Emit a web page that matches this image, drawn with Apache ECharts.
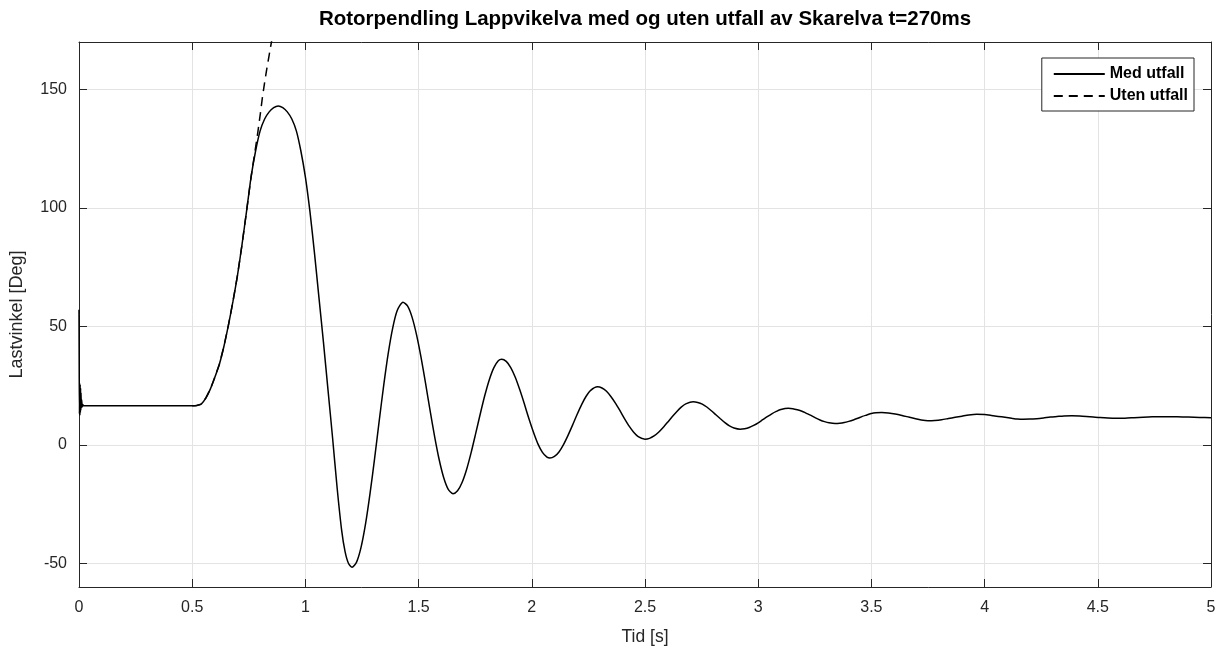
<!DOCTYPE html>
<html>
<head>
<meta charset="utf-8">
<script src="https://cdn.jsdelivr.net/npm/echarts@6/dist/echarts.min.js"></script>
<style>
  html, body { margin: 0; padding: 0; background: #fff; }
  #chart { width: 1218px; height: 646px; }
</style>
</head>
<body>
<div id="chart"></div>
<script>
// Rotor angle after the fault, with the Skarelva trip (solid)
const medT = [
  0, 0.001, 0.002, 0.003, 0.004, 0.005, 0.006, 0.007, 0.008, 0.009, 0.010, 0.012, 0.014, 0.017, 0.02,
  0.1, 0.2, 0.3, 0.4, 0.5, 0.52,
  0.54, 0.56, 0.58, 0.60, 0.62, 0.64, 0.66, 0.68, 0.70, 0.72, 0.74, 0.76, 0.78, 0.80, 0.82, 0.84, 0.86, 0.88,
  0.90, 0.92, 0.94, 0.96, 0.98, 1.00, 1.02, 1.04, 1.06, 1.08, 1.10, 1.12, 1.14, 1.16, 1.175, 1.19, 1.206,
  1.226, 1.246, 1.266, 1.286, 1.306, 1.326, 1.346, 1.366, 1.386, 1.406, 1.431,
  1.451, 1.471, 1.491, 1.511, 1.531, 1.551, 1.571, 1.591, 1.611, 1.631, 1.652,
  1.672, 1.692, 1.712, 1.732, 1.752, 1.772, 1.792, 1.812, 1.832, 1.852, 1.867,
  1.887, 1.907, 1.927, 1.947, 1.967, 1.987, 2.007, 2.027, 2.047, 2.067, 2.08,
  2.10, 2.12, 2.14, 2.16, 2.18, 2.20, 2.22, 2.24, 2.26, 2.29,
  2.31, 2.33, 2.35, 2.37, 2.39, 2.41, 2.43, 2.45, 2.47, 2.50,
  2.52, 2.54, 2.56, 2.58, 2.60, 2.62, 2.64, 2.66, 2.68, 2.713,
  2.733, 2.753, 2.773, 2.793, 2.813, 2.833, 2.853, 2.873, 2.893, 2.92,
  2.94, 2.96, 2.98, 3.00, 3.02, 3.04, 3.06, 3.08, 3.10, 3.133,
  3.153, 3.173, 3.193, 3.213, 3.233, 3.253, 3.273, 3.293, 3.313, 3.34,
  3.36, 3.38, 3.40, 3.42, 3.44, 3.46, 3.48, 3.50, 3.52, 3.545,
  3.575, 3.605, 3.635, 3.665, 3.695, 3.72, 3.75,
  3.78, 3.81, 3.84, 3.87, 3.90, 3.93, 3.965,
  4.00, 4.03, 4.06, 4.09, 4.12, 4.145, 4.17,
  4.20, 4.23, 4.26, 4.29, 4.32, 4.35, 4.385,
  4.42, 4.45, 4.48, 4.51, 4.545, 4.58,
  4.62, 4.66, 4.70, 4.74, 4.80,
  4.85, 4.90, 4.95, 5.0
];
const medVals = [
  57, 30, 13, 26, 12.5, 25.5, 13.5, 24, 14.5, 22, 15.5, 19, 16, 17, 16.5,
  16.5, 16.5, 16.5, 16.5, 16.5, 16.6,
  17.2, 19.7, 23.5, 28.5, 34, 41.5, 50.5, 60.5, 71.5, 84.5, 98.5, 113, 124, 132.5, 137.5, 140.5, 142.3, 143,
  142.3, 140.5, 137.5, 132.5, 124, 113, 98.5, 81, 62, 43, 23, 3, -18, -36, -45, -50, -51.7,
  -49.5, -43.2, -33.2, -20.2, -5.5, 10.1, 25.2, 38.7, 49.5, 56.8, 60.2,
  58.6, 53.9, 46.4, 36.8, 25.8, 14.3, 3.4, -6.3, -13.9, -18.8, -20.6,
  -19.4, -15.9, -10.4, -3.3, 4.7, 12.9, 20.7, 27.4, 32.5, 35.5, 36.1,
  35.2, 32.6, 28.5, 23.2, 17.3, 11.1, 5.4, 0.4, -3.2, -5.2, -5.6,
  -4.9, -3.0, 0.1, 4.0, 8.3, 12.8, 17.0, 20.5, 23.0, 24.5,
  24.0, 22.6, 20.3, 17.5, 14.3, 11.0, 7.9, 5.35, 3.5, 2.4,
  2.74, 3.74, 5.3, 7.3, 9.54, 11.86, 14.0, 15.9, 17.3, 18.2,
  17.9, 17.2, 15.96, 14.4, 12.7, 11.0, 9.35, 8.0, 7.1, 6.6,
  6.8, 7.3, 8.2, 9.3, 10.6, 11.9, 13.1, 14.1, 14.9, 15.4,
  15.25, 14.8, 14.2, 13.3, 12.4, 11.4, 10.5, 9.8, 9.3, 9.0,
  9.1, 9.4, 9.9, 10.5, 11.2, 12.0, 12.6, 13.2, 13.5, 13.6,
  13.4, 13.0, 12.4, 11.7, 11.0, 10.5, 10.2,
  10.3, 10.6, 11.1, 11.6, 12.1, 12.6, 12.9,
  12.75, 12.4, 12.0, 11.6, 11.2, 10.9, 10.8,
  10.85, 11.05, 11.35, 11.7, 11.95, 12.2, 12.3,
  12.2, 12.0, 11.75, 11.5, 11.3, 11.2,
  11.25, 11.45, 11.65, 11.8, 11.9,
  11.85, 11.7, 11.55, 11.4
];

// Without the trip the angle runs away (dashed); it lies under the solid
// curve until t = 0.76 s and then diverges upward
const utenSharedFrom = 0.5;
const utenSharedUntil = 0.76;
const utenT = [0.78, 0.79, 0.80, 0.81, 0.82, 0.83, 0.84, 0.85, 0.86];
const utenVals = [125.5, 132, 139, 146.5, 153, 159, 164.5, 170, 175.5];

const xTicks = { min: 0, max: 5, step: 0.5 };
const yTickValues = [-50, 0, 50, 100, 150];
const yRange = { min: -60, max: 170 };

const titleText = 'Rotorpendling Lappvikelva med og uten utfall av Skarelva t=270ms';
const xName = 'Tid [s]';
const yName = 'Lastvinkel [Deg]';
const seriesNames = ['Med utfall', 'Uten utfall'];

const medData = medT.map((t, i) => [t, medVals[i]]);
const utenData = medData.filter(p => p[0] >= utenSharedFrom && p[0] <= utenSharedUntil)
  .concat(utenT.map((t, i) => [t, utenVals[i]]));

const FONT = '"Liberation Sans", Arial, Helvetica, sans-serif';
const AX = '#262626';
const GRID = '#e3e3e3';

const chart = echarts.init(document.getElementById('chart'), null, { renderer: 'canvas' });

const baseX = {
  type: 'value', min: xTicks.min, max: xTicks.max, interval: xTicks.step
};

chart.setOption({
  backgroundColor: '#ffffff',
  animation: false,
  graphic: [{
    type: 'text', x: 645, y: 9,
    style: {
      text: titleText, align: 'center', verticalAlign: 'top',
      font: 'bold 20.5px ' + FONT, fill: '#000'
    }
  }],
  grid: { left: 79, right: 7, top: 42, bottom: 59, containLabel: false, outerBoundsMode: 'none' },
  legend: {
    orient: 'vertical', right: 24, top: 58,
    itemWidth: 51, itemHeight: 14, itemGap: 6,
    padding: [8, 6, 7, 11],
    borderColor: AX, borderWidth: 1, backgroundColor: '#fff',
    itemStyle: { opacity: 0 },
    textStyle: { fontFamily: FONT, fontWeight: 'bold', fontSize: 16, color: '#000' },
    data: seriesNames
  },
  xAxis: [
    Object.assign({}, baseX, {
      position: 'bottom',
      name: xName, nameLocation: 'middle', nameGap: 41,
      nameTextStyle: { fontFamily: FONT, fontSize: 17.5, color: AX },
      axisLine: { show: true, onZero: false, lineStyle: { color: AX, width: 1 } },
      axisTick: { show: true, inside: true, length: 8, lineStyle: { color: AX } },
      axisLabel: { fontFamily: FONT, fontSize: 16, color: AX, margin: 13 },
      splitLine: { show: true, lineStyle: { color: GRID, width: 1 } }
    }),
    Object.assign({}, baseX, {
      position: 'top',
      axisLine: { show: true, onZero: false, lineStyle: { color: AX, width: 1 } },
      axisTick: { show: true, inside: true, length: 8, lineStyle: { color: AX } },
      axisLabel: { show: false },
      splitLine: { show: false }
    })
  ],
  yAxis: [
    {
      type: 'value', position: 'left', min: yRange.min, max: yRange.max,
      name: yName, nameLocation: 'middle', nameGap: 53, nameRotate: 90,
      nameTextStyle: { fontFamily: FONT, fontSize: 18, color: AX },
      axisLine: { show: true, onZero: false, lineStyle: { color: AX, width: 1 } },
      axisTick: { show: true, inside: true, length: 8, lineStyle: { color: AX }, customValues: yTickValues },
      axisLabel: { fontFamily: FONT, fontSize: 16, color: AX, margin: 12, customValues: yTickValues },
      splitLine: { show: true, lineStyle: { color: GRID, width: 1 } }
    },
    {
      type: 'value', position: 'right', min: yRange.min, max: yRange.max,
      axisLine: { show: true, onZero: false, lineStyle: { color: AX, width: 1 } },
      axisTick: { show: true, inside: true, length: 8, lineStyle: { color: AX }, customValues: yTickValues },
      axisLabel: { show: false },
      splitLine: { show: false }
    }
  ],
  series: [
    {
      name: seriesNames[1], type: 'line', data: utenData,
      xAxisIndex: 0, yAxisIndex: 0,
      symbol: 'none', clip: true, z: 2,
      lineStyle: { color: '#000', width: 1.5, type: [9, 6] },
      itemStyle: { color: '#000' }
    },
    {
      name: seriesNames[0], type: 'line', data: medData,
      xAxisIndex: 0, yAxisIndex: 0,
      symbol: 'none', clip: true, z: 3, smooth: 0.25,
      lineStyle: { color: '#000', width: 1.5 },
      itemStyle: { color: '#000' }
    }
  ]
});
</script>
</body>
</html>
